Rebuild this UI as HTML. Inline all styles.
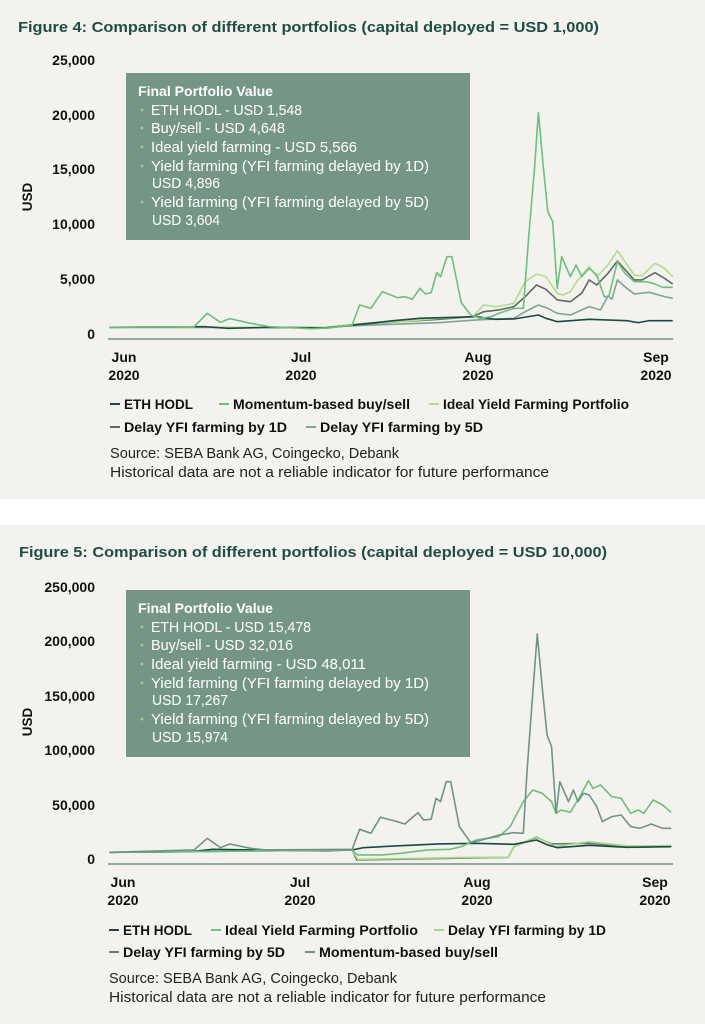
<!DOCTYPE html>
<html><head><meta charset="utf-8"><style>
html,body{margin:0;padding:0;background:#f3f2ee;}
svg{display:block;font-family:"Liberation Sans",sans-serif;}
.t{font-weight:bold;fill:#1f4d45;font-size:15px;}
.yl{font-weight:bold;font-size:14px;fill:#111;text-anchor:end;}
.xl{font-weight:bold;font-size:14px;fill:#111;text-anchor:middle;}
.lg{font-weight:bold;font-size:13.5px;fill:#111;}
.src{font-size:15px;fill:#222;}
.bx{font-size:15px;fill:#fff;}
.bh{font-size:14px;fill:#fff;font-weight:bold;}
.bul{fill:#8fd08f;}
polyline{fill:none;stroke-width:1.6;vector-effect:non-scaling-stroke;stroke-linejoin:round;}
</style></head><body>
<svg width="705" height="1024" viewBox="0 0 705 1024" xmlns="http://www.w3.org/2000/svg">
<rect x="0" y="0" width="705" height="1024" fill="#f3f2ee"/>
<rect x="0" y="499" width="705" height="26" fill="#ffffff"/>

<!-- FIGURE 4 -->
<text class="t" x="18" y="32" textLength="581" lengthAdjust="spacingAndGlyphs">Figure 4: Comparison of different portfolios (capital deployed = USD 1,000)</text>
<text class="yl" x="95" y="65">25,000</text>
<text class="yl" x="95" y="120">20,000</text>
<text class="yl" x="95" y="174">15,000</text>
<text class="yl" x="95" y="229">10,000</text>
<text class="yl" x="95" y="284">5,000</text>
<text class="yl" x="95" y="339">0</text>
<text class="lg" transform="translate(32,197) rotate(-90)" text-anchor="middle">USD</text>
<line x1="108" y1="339" x2="673" y2="339" stroke="#6f938a" stroke-width="1.5"/>
<text class="xl" x="124" y="362">Jun</text><text class="xl" x="124" y="380">2020</text>
<text class="xl" x="301" y="362">Jul</text><text class="xl" x="301" y="380">2020</text>
<text class="xl" x="478" y="362">Aug</text><text class="xl" x="478" y="380">2020</text>
<text class="xl" x="656" y="362">Sep</text><text class="xl" x="656" y="380">2020</text>

<g transform="translate(100,100) scale(0.3763,0.3333)">
<polyline stroke="#7ea597" points="25,682 600,682 700,676 900,668 1000,660 1100,655 1130,635 1165,615 1190,625 1215,640 1250,645 1300,620 1330,630 1350,588 1360,598 1375,540 1400,565 1420,582 1460,577 1500,590 1522,595"/>
<polyline stroke="#5e6a64" points="25,682 600,682 700,672 900,658 990,650 1020,635 1060,630 1100,620 1130,590 1160,555 1185,568 1215,600 1250,605 1280,580 1300,540 1320,555 1350,520 1375,483 1400,515 1420,540 1440,540 1475,518 1500,535 1522,552"/>
<polyline stroke="#b3dc8a" points="25,682 600,682 700,670 800,665 900,655 990,650 1020,615 1050,620 1080,615 1100,610 1130,545 1160,522 1185,530 1215,580 1230,585 1250,575 1270,540 1300,500 1320,530 1350,495 1375,452 1395,485 1420,525 1440,528 1475,490 1500,505 1522,530"/>
<polyline stroke="#1c4a42" points="25,682 280,680 340,685 460,682 600,684 700,672 780,662 850,655 1000,650 1050,658 1100,657 1165,645 1185,655 1215,665 1300,658 1400,662 1430,668 1460,662 1522,662"/>
<polyline stroke="#6cbf7c" points="25,682 250,680 285,640 320,667 345,656 400,670 450,680 560,686 610,684 670,675 690,615 720,625 750,575 790,593 810,590 830,598 850,565 865,582 880,578 895,518 905,530 922,470 935,470 960,608 985,645 1010,655 1040,650 1060,640 1100,625 1125,625 1140,400 1155,200 1165,38 1178,200 1190,335 1203,365 1215,565 1227,470 1250,530 1265,495 1280,530 1300,505 1320,525 1340,590 1352,590 1375,485 1395,520 1420,545 1450,545 1470,550 1495,562 1522,562"/>
</g>

<rect x="126" y="73" width="344" height="167" fill="#759687"/>
<text class="bh" x="138" y="96" textLength="135" lengthAdjust="spacingAndGlyphs">Final Portfolio Value</text>
<g class="bx">
<text x="151" y="115" textLength="151" lengthAdjust="spacingAndGlyphs">ETH HODL - USD 1,548</text>
<text x="151" y="133" textLength="134" lengthAdjust="spacingAndGlyphs">Buy/sell - USD 4,648</text>
<text x="151" y="152" textLength="206" lengthAdjust="spacingAndGlyphs">Ideal yield farming - USD 5,566</text>
<text x="151" y="171" textLength="278" lengthAdjust="spacingAndGlyphs">Yield farming (YFI farming delayed by 1D)</text>
<text x="152" y="188" textLength="68" lengthAdjust="spacingAndGlyphs">USD 4,896</text>
<text x="151" y="207" textLength="278" lengthAdjust="spacingAndGlyphs">Yield farming (YFI farming delayed by 5D)</text>
<text x="152" y="225" textLength="68" lengthAdjust="spacingAndGlyphs">USD 3,604</text>
</g>
<g class="bul"><circle cx="142" cy="110" r="1.5"/><circle cx="142" cy="128" r="1.5"/><circle cx="142" cy="147" r="1.5"/><circle cx="142" cy="166" r="1.5"/><circle cx="142" cy="202" r="1.5"/></g>

<g>
<line x1="110" y1="404" x2="120" y2="404" stroke="#1c4a42" stroke-width="2"/><text class="lg" x="124" y="409">ETH HODL</text>
<line x1="219" y1="404" x2="229" y2="404" stroke="#6cbf7c" stroke-width="2"/><text class="lg" x="233" y="409" textLength="177" lengthAdjust="spacingAndGlyphs">Momentum-based buy/sell</text>
<line x1="429" y1="404" x2="439" y2="404" stroke="#b3dc8a" stroke-width="2"/><text class="lg" x="443" y="409" textLength="186" lengthAdjust="spacingAndGlyphs">Ideal Yield Farming Portfolio</text>
<line x1="110" y1="427" x2="120" y2="427" stroke="#5e6a64" stroke-width="2"/><text class="lg" x="124" y="432" textLength="163" lengthAdjust="spacingAndGlyphs">Delay YFI farming by 1D</text>
<line x1="306" y1="427" x2="316" y2="427" stroke="#7ea597" stroke-width="2"/><text class="lg" x="320" y="432" textLength="163" lengthAdjust="spacingAndGlyphs">Delay YFI farming by 5D</text>
</g>
<text class="src" x="110" y="458" textLength="289" lengthAdjust="spacingAndGlyphs">Source: SEBA Bank AG, Coingecko, Debank</text>
<text class="src" x="110" y="477" textLength="439" lengthAdjust="spacingAndGlyphs">Historical data are not a reliable indicator for future performance</text>

<!-- FIGURE 5 -->
<text class="t" x="19" y="557" textLength="588" lengthAdjust="spacingAndGlyphs">Figure 5: Comparison of different portfolios (capital deployed = USD 10,000)</text>
<text class="yl" x="95" y="592">250,000</text>
<text class="yl" x="95" y="646">200,000</text>
<text class="yl" x="95" y="701">150,000</text>
<text class="yl" x="95" y="755">100,000</text>
<text class="yl" x="95" y="810">50,000</text>
<text class="yl" x="95" y="864">0</text>
<text class="lg" transform="translate(32,722) rotate(-90)" text-anchor="middle">USD</text>
<line x1="108" y1="864" x2="673" y2="864" stroke="#6f938a" stroke-width="1.5"/>
<text class="xl" x="123" y="887">Jun</text><text class="xl" x="123" y="905">2020</text>
<text class="xl" x="300" y="887">Jul</text><text class="xl" x="300" y="905">2020</text>
<text class="xl" x="477" y="887">Aug</text><text class="xl" x="477" y="905">2020</text>
<text class="xl" x="655" y="887">Sep</text><text class="xl" x="655" y="905">2020</text>

<g transform="translate(100,620) scale(0.3763,0.3333)">
<polyline stroke="#6b7a73" points="25,697 670,690 682,720 1085,712 1100,680 1160,652 1200,672 1300,670 1430,682 1518,678"/>
<polyline stroke="#a9d88a" points="25,697 670,690 685,718 1000,712 1085,712 1100,680 1130,665 1160,650 1180,662 1210,680 1300,665 1400,678 1518,677"/>
<polyline stroke="#1c4a42" points="25,697 240,695 300,688 400,690 600,692 670,690 700,683 800,677 900,672 1000,670 1100,673 1160,660 1190,675 1215,683 1300,676 1400,682 1518,680"/>
<polyline stroke="#6cbf7c" points="25,697 670,690 685,705 750,705 800,700 870,690 930,688 960,680 1000,660 1030,655 1060,650 1090,620 1125,545 1150,510 1175,520 1200,545 1212,580 1225,570 1250,577 1275,530 1298,482 1310,505 1330,495 1360,530 1385,535 1410,580 1430,570 1445,580 1470,540 1495,555 1518,577"/>
<polyline stroke="#6f9487" points="25,697 250,690 285,655 320,683 345,672 400,685 440,690 670,688 690,628 720,640 745,592 790,605 810,612 845,578 860,600 880,598 893,535 905,545 920,485 932,485 955,620 985,668 1015,660 1060,645 1100,638 1125,640 1135,450 1150,220 1162,42 1175,200 1188,345 1200,380 1212,580 1222,485 1245,545 1258,510 1270,545 1285,520 1300,525 1320,560 1335,605 1360,590 1385,585 1410,620 1435,625 1465,612 1495,625 1518,625"/>
</g>

<rect x="126" y="590" width="344" height="167" fill="#759687"/>
<text class="bh" x="138" y="613" textLength="135" lengthAdjust="spacingAndGlyphs">Final Portfolio Value</text>
<g class="bx">
<text x="151" y="632" textLength="160" lengthAdjust="spacingAndGlyphs">ETH HODL - USD 15,478</text>
<text x="151" y="650" textLength="142" lengthAdjust="spacingAndGlyphs">Buy/sell - USD 32,016</text>
<text x="151" y="669" textLength="215" lengthAdjust="spacingAndGlyphs">Ideal yield farming - USD 48,011</text>
<text x="151" y="688" textLength="278" lengthAdjust="spacingAndGlyphs">Yield farming (YFI farming delayed by 1D)</text>
<text x="152" y="705" textLength="76" lengthAdjust="spacingAndGlyphs">USD 17,267</text>
<text x="151" y="724" textLength="278" lengthAdjust="spacingAndGlyphs">Yield farming (YFI farming delayed by 5D)</text>
<text x="152" y="742" textLength="76" lengthAdjust="spacingAndGlyphs">USD 15,974</text>
</g>
<g class="bul"><circle cx="142" cy="627" r="1.5"/><circle cx="142" cy="645" r="1.5"/><circle cx="142" cy="664" r="1.5"/><circle cx="142" cy="683" r="1.5"/><circle cx="142" cy="719" r="1.5"/></g>

<g>
<line x1="109" y1="930" x2="119" y2="930" stroke="#1c4a42" stroke-width="2"/><text class="lg" x="123" y="935">ETH HODL</text>
<line x1="211" y1="930" x2="221" y2="930" stroke="#6cbf7c" stroke-width="2"/><text class="lg" x="225" y="935" textLength="193" lengthAdjust="spacingAndGlyphs">Ideal Yield Farming Portfolio</text>
<line x1="434" y1="930" x2="444" y2="930" stroke="#a9d88a" stroke-width="2"/><text class="lg" x="448" y="935" textLength="158" lengthAdjust="spacingAndGlyphs">Delay YFI farming by 1D</text>
<line x1="109" y1="952" x2="119" y2="952" stroke="#6b7a73" stroke-width="2"/><text class="lg" x="123" y="957" textLength="162" lengthAdjust="spacingAndGlyphs">Delay YFI farming by 5D</text>
<line x1="305" y1="952" x2="315" y2="952" stroke="#6f9487" stroke-width="2"/><text class="lg" x="319" y="957" textLength="179" lengthAdjust="spacingAndGlyphs">Momentum-based buy/sell</text>
</g>
<text class="src" x="109" y="983" textLength="288" lengthAdjust="spacingAndGlyphs">Source: SEBA Bank AG, Coingecko, Debank</text>
<text class="src" x="109" y="1002" textLength="437" lengthAdjust="spacingAndGlyphs">Historical data are not a reliable indicator for future performance</text>
</svg>
</body></html>
